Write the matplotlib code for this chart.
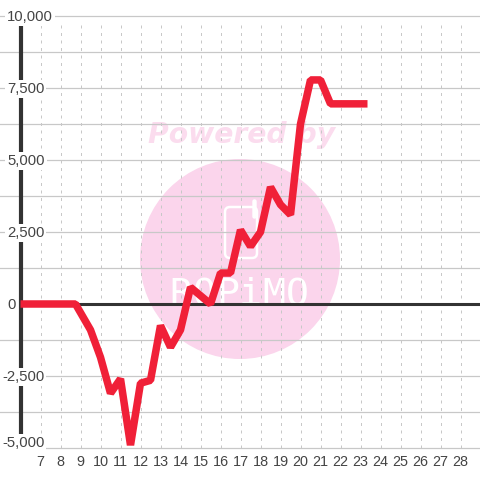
import matplotlib
matplotlib.use("Agg")
import matplotlib.pyplot as plt
from matplotlib.patches import Circle, FancyBboxPatch

plt.rcParams['font.family'] = ['Liberation Sans', 'DejaVu Sans']

# half hourly values
hours = [6, 8.75, 9.5, 10, 10.5, 11, 11.5, 12, 12.5, 13, 13.5, 14, 14.5, 15.5, 16, 16.5,
         17, 17.5, 18, 18.5, 19, 19.5, 20, 20.5, 21, 21.5, 23.35]
values = [0, 0, -900, -1850, -3100, -2600, -4900, -2750, -2650, -750, -1500, -900, 580, 0,
          1075, 1075, 2570, 2000, 2500, 4060, 3450, 3100, 6250, 7780, 7780, 6950, 6950]

x_ticks = list(range(7, 29))
y_ticks = [10000, 7500, 5000, 2500, 0, -2500, -5000]
y_labels = ['10,000', '7,500', '5,000', '2,500', '0', '-2,500', '-5,000']
minor_y = [8750, 6250, 3750, 1250, -1250, -3750]
logo_letters = 'ROPiMO'

fig = plt.figure(figsize=(4.8, 4.8), dpi=100)
ax = fig.add_axes([0, 0, 1, 1])
# one data unit maps straight on to the 480 px canvas
ax.set_xlim(4.975, 28.975)
ax.set_ylim(-5000 - 32 * 2500 / 72, 10000 + 16 * 2500 / 72)
ax.axis('off')

# watermark, kept on the axes so it stays under the grid and the line
ax.add_patch(Circle((240, 221), 100, transform=None, color='#fbd5ec', lw=0, zorder=1))
ax.text(242 / 480, 1 - 135 / 480, 'Powered by', color='#fbdcee', fontsize=20.3, fontweight='bold',
        fontstyle='italic', family='DejaVu Sans', ha='center', va='center', zorder=1,
        transform=fig.transFigure)
ax.add_patch(FancyBboxPatch((225, 222), 32, 51, boxstyle='round,pad=0,rounding_size=5',
                            transform=None, fc='none', ec='white', lw=1.8, zorder=1.5))
ax.add_patch(FancyBboxPatch((253, 262), 3, 18, boxstyle='round,pad=0,rounding_size=1.5',
                            transform=None, fc='white', ec='white', lw=1, zorder=1.5))
for i, ch in enumerate(logo_letters):
    ax.text((181 + i * 23.2) / 480, 1 - 305 / 480, ch, color='white', fontsize=27.5,
            family='DejaVu Sans Mono', ha='center', va='baseline', zorder=1.5,
            transform=fig.transFigure)

for y in y_ticks + minor_y:
    if y != 0:
        ax.axhline(y, color='#c8c8c8', lw=0.9, zorder=2)
ax.vlines(x_ticks, -5000, 9722, color='#c8c8c8', lw=0.72, linestyles=(0, (3, 4.5)), zorder=2)

ax.plot([6, 29], [0, 0], color='#333333', lw=2.2, zorder=3, solid_capstyle='butt')
ax.plot([6, 6], [-5000, 9722], color='#333333', lw=3, zorder=3, solid_capstyle='butt')
ax.plot(hours, values, color='#f02038', lw=5.4, zorder=4, solid_joinstyle='bevel', solid_capstyle='butt')

for y, lab in zip(y_ticks, y_labels):
    px = 7 if not lab.startswith('-') else 2
    dy = 6 if y == -5000 else 0
    ax.annotate(lab, (6, y), xycoords='data', xytext=(px - 20.5, dy - 1), textcoords='offset pixels',
                ha='left', va='center', fontsize=10.7, color='#444444', zorder=5,
                bbox=dict(fc='white', ec='none', pad=1.5))
for x in x_ticks:
    ax.annotate(str(x), (x, -5000), xycoords='data', xytext=(0, -7), textcoords='offset pixels',
                ha='center', va='top', fontsize=10.4, color='#444444', zorder=5)

fig.savefig('out.png', dpi=100)
